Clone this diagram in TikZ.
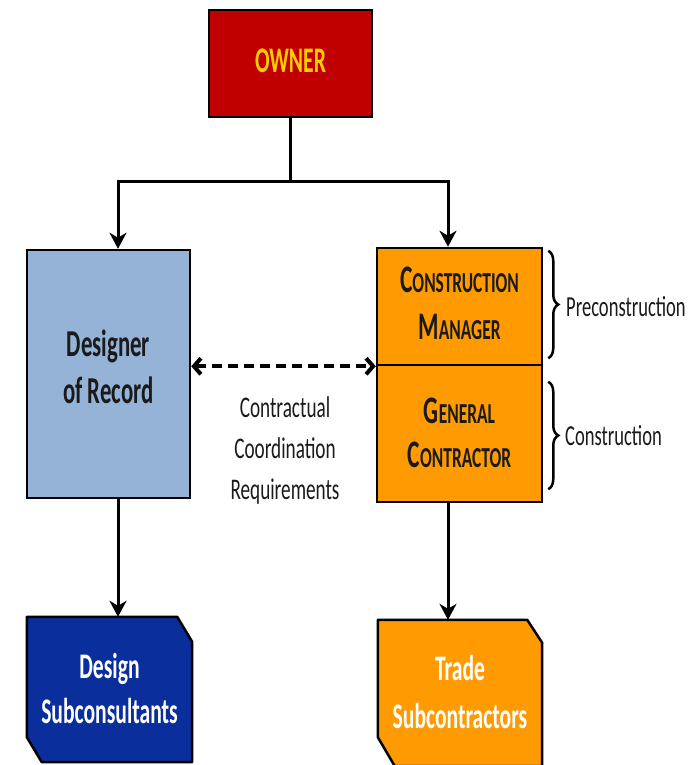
\documentclass[tikz,border=0pt]{standalone}
\usepackage{fontspec}
\setmainfont{Carlito}[FakeStretch=0.64, BoldFeatures={FakeStretch=0.6}]
\usetikzlibrary{arrows.meta,decorations.pathreplacing,calc,backgrounds}
\definecolor{ownred}{HTML}{C00000}
\definecolor{owntxt}{HTML}{FFCC00}
\definecolor{dorblue}{HTML}{95B3D7}
\definecolor{cmorange}{HTML}{FF9A00}
\definecolor{dsblue}{HTML}{0A2E9C}
\definecolor{ink}{HTML}{1A1A1A}
\newcommand{\fsc}[1]{{\fontsize{29}{47}\selectfont #1}}
\begin{document}
\begin{tikzpicture}[x=1pt,y=-1pt,
  box/.style={draw=black, line width=2.5pt, inner sep=0pt, align=center},
  cut/.style={inner sep=0pt, align=center},
  line/.style={line width=3pt},
  arr/.style={line width=3pt, -{Stealth[length=16pt,width=17pt,inset=5pt]}},
  dash arr/.style={line width=4pt, dash pattern=on 10pt off 6pt, {Straight Barb[length=7pt,width=16pt]}-{Straight Barb[length=7pt,width=16pt]}},
  brc/.style={line width=2.5pt, decorate, decoration={brace, amplitude=10pt}},
  lbl/.style={inner sep=0pt, anchor=west, font=\fontsize{29}{30}\selectfont, text=ink}
]
\begin{scope}[on background layer]
\fill[white] (0,0) rectangle (700,765);
\end{scope}
\useasboundingbox (0,0) rectangle (700,765);

% boxes
\node[box, fill=ownred, minimum width=163pt, minimum height=107pt, text depth=5pt,
      font=\fontsize{36}{40}\selectfont\bfseries, text=owntxt] (owner) at (290.5,63.5) {OWNER};
\node[box, fill=dorblue, minimum width=163pt, minimum height=248pt, text depth=14pt,
      font=\fontsize{38}{47}\selectfont\bfseries, text=ink] (dor) at (108.5,374) {Designer\\of Record};
\node[box, fill=cmorange, minimum width=165pt, minimum height=117pt, text depth=7pt,
      font=\fontsize{39}{47}\selectfont\bfseries, text=ink] (cm) at (459.5,306.5)
      {C\fsc{ONSTRUCTION}\\M\fsc{ANAGER}};
\node[box, fill=cmorange, minimum width=165pt, minimum height=137pt, text depth=2pt,
      font=\fontsize{39}{44}\selectfont\bfseries, text=ink] (gc) at (459.5,433.5)
      {G\fsc{ENERAL}\\C\fsc{ONTRACTOR}};
\node[cut, minimum width=165pt, minimum height=145pt,
      font=\fontsize{36}{45}\selectfont\bfseries, text=white] (ds) at (109.5,688) {Design\\Subconsultants};
\node[cut, minimum width=164pt, minimum height=146pt,
      font=\fontsize{36}{48}\selectfont\bfseries, text=white] (ts) at (460,691.5) {Trade\\Subcontractors};

\begin{scope}[on background layer]
\filldraw[fill=dsblue, draw=black, line width=2.5pt, line join=round]
  ($(ds.north west)+(0,1.5)$) -- ($(ds.north east)+(-15,1.5)$) -- ($(ds.north east)+(0,26.5)$)
  -- ($(ds.south east)+(0,1.5)$) -- ($(ds.south west)+(15,1.5)$) -- ($(ds.south west)+(0,-23.5)$) -- cycle;
\filldraw[fill=cmorange, draw=black, line width=2.5pt, line join=round]
  ($(ts.north west)+(0,1.5)$) -- ($(ts.north east)+(-15,1.5)$) -- ($(ts.north east)+(0,24.5)$)
  -- ($(ts.south east)+(0,1.5)$) -- ($(ts.south west)+(17,1.5)$) -- ($(ts.south west)+(0,-27.5)$) -- cycle;
\end{scope}

% connectors
\coordinate (jn) at ($(owner.south)+(0,63)$);
\draw[line] (owner.south) -- (jn);
\draw[arr] (jn) -| ([xshift=9.5pt]dor.north);
\draw[arr] (jn) -| ([xshift=-11.5pt]cm.north);
\draw[arr] ([xshift=9.5pt]dor.south) -- ($([xshift=9.5pt]dor.south |- ds.north)+(0,1.5)$);
\draw[arr] ([xshift=-11.5pt]gc.south) -- ($([xshift=-11.5pt]gc.south |- ts.north)+(0,1.5)$);
\draw[dash arr] (dor.east |- cm.south) -- (cm.south west);

\node[inner sep=0pt, align=center, font=\fontsize{30}{41}\selectfont, text=ink] (ccr) at (285,450)
  {Contractual\\Coordination\\Requirements};

% braces
\draw[brc] ($(cm.north east)+(5,4)$) -- ($(cm.south east)+(5,-8)$);
\draw[brc] ($(gc.north east)+(5,18)$) -- ($(gc.south east)+(5,-14)$);
\node[lbl] (pre) at (566,307) {Preconstruction};
\node[lbl] (con) at (565,436) {Construction};
\end{tikzpicture}
\end{document}
